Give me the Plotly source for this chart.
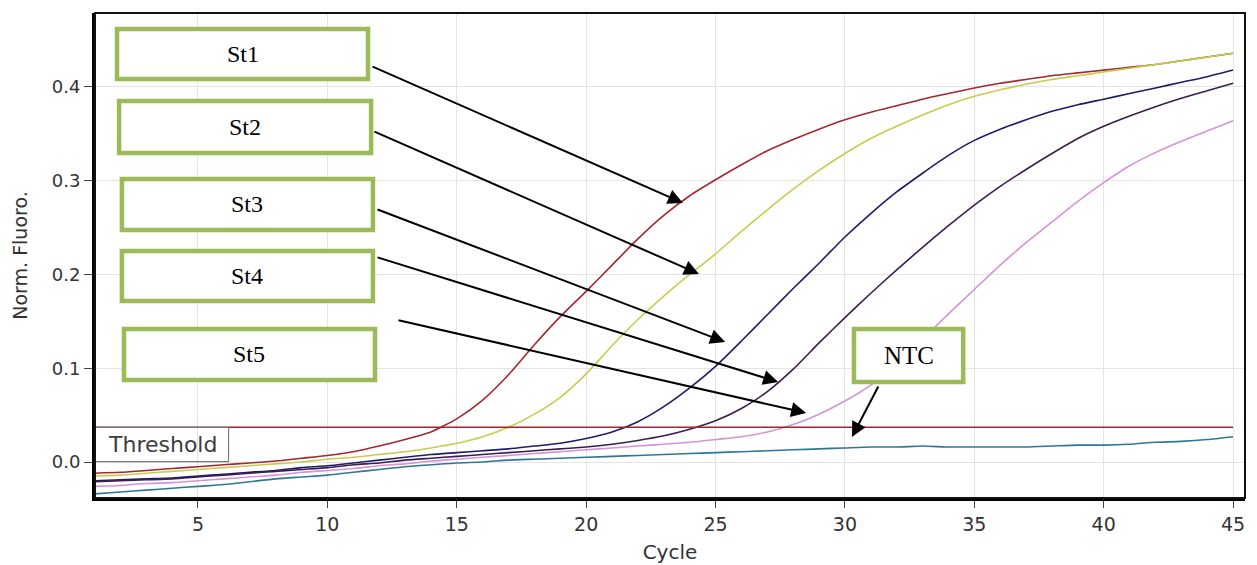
import plotly.graph_objects as go

# ---------------- data ----------------
cycles = list(range(1, 46))

st1 = [-0.012, -0.011, -0.009, -0.007, -0.005, -0.003, -0.001, 0.001, 0.004, 0.007,
       0.011, 0.017, 0.024, 0.032, 0.046, 0.066, 0.093, 0.125, 0.155, 0.182,
       0.210, 0.238, 0.263, 0.284, 0.301, 0.317, 0.332, 0.344, 0.355, 0.365,
       0.373, 0.380, 0.387, 0.393, 0.399, 0.404, 0.408, 0.412, 0.415, 0.418,
       0.421, 0.424, 0.428, 0.432, 0.436]

st2 = [-0.015, -0.014, -0.012, -0.010, -0.008, -0.006, -0.004, -0.002, 0.000, 0.003,
       0.005, 0.008, 0.011, 0.015, 0.020, 0.027, 0.037, 0.051, 0.069, 0.094,
       0.124, 0.152, 0.177, 0.200, 0.222, 0.246, 0.269, 0.291, 0.311, 0.329,
       0.345, 0.358, 0.370, 0.381, 0.390, 0.397, 0.403, 0.408, 0.412, 0.416,
       0.420, 0.424, 0.428, 0.432, 0.436]

st3 = [-0.020, -0.019, -0.018, -0.017, -0.015, -0.013, -0.011, -0.009, -0.006, -0.004,
       -0.001, 0.002, 0.005, 0.008, 0.010, 0.012, 0.014, 0.017, 0.020, 0.025,
       0.032, 0.043, 0.059, 0.079, 0.102, 0.129, 0.157, 0.185, 0.212, 0.240,
       0.265, 0.288, 0.308, 0.327, 0.343, 0.355, 0.365, 0.374, 0.381, 0.387,
       0.393, 0.399, 0.405, 0.411, 0.418]

st4 = [-0.021, -0.020, -0.019, -0.018, -0.016, -0.014, -0.012, -0.010, -0.008, -0.006,
       -0.003, -0.001, 0.002, 0.004, 0.006, 0.008, 0.010, 0.012, 0.014, 0.016,
       0.019, 0.023, 0.028, 0.035, 0.044, 0.057, 0.075, 0.099, 0.127, 0.154,
       0.180, 0.205, 0.229, 0.252, 0.274, 0.294, 0.312, 0.329, 0.345, 0.358,
       0.369, 0.379, 0.388, 0.396, 0.404]

st5 = [-0.026, -0.025, -0.023, -0.022, -0.020, -0.018, -0.016, -0.014, -0.011, -0.009,
       -0.007, -0.004, -0.002, 0.001, 0.003, 0.005, 0.007, 0.009, 0.011, 0.013,
       0.015, 0.017, 0.019, 0.021, 0.024, 0.027, 0.032, 0.040, 0.051, 0.065,
       0.082, 0.104, 0.131, 0.158, 0.184, 0.210, 0.234, 0.256, 0.278, 0.298,
       0.316, 0.330, 0.342, 0.353, 0.364]

ntc = [-0.034, -0.032, -0.030, -0.028, -0.026, -0.024, -0.021, -0.018, -0.016, -0.014,
       -0.011, -0.008, -0.005, -0.003, -0.001, 0.000, 0.002, 0.003, 0.004, 0.005,
       0.006, 0.007, 0.008, 0.009, 0.010, 0.011, 0.012, 0.013, 0.014, 0.015,
       0.016, 0.016, 0.017, 0.016, 0.016, 0.016, 0.016, 0.017, 0.018, 0.018,
       0.019, 0.021, 0.022, 0.024, 0.027]

threshold = 0.037

series_names = ["St1", "St2", "St3", "St4", "St5", "NTC"]
series_values = [st1, st2, st3, st4, st5, ntc]
series_colors = ["#A3282F", "#C9CB4E", "#1E1D6B", "#3B1E4F", "#D493D6", "#2E7896"]

x_ticks = [5, 10, 15, 20, 25, 30, 35, 40, 45]
y_ticks = [0.0, 0.1, 0.2, 0.3, 0.4]
y_tick_labels = ["0.0", "0.1", "0.2", "0.3", "0.4"]

# label boxes (data coords: x0, x1, y0, y1) and arrows (tail -> tip)
boxes = {
    "St1": (1.87, 11.57, 0.4085, 0.4619),
    "St2": (1.95, 11.69, 0.3296, 0.3851),
    "St3": (2.06, 11.76, 0.2475, 0.3019),
    "St4": (2.06, 11.76, 0.1717, 0.2251),
    "St5": (2.14, 11.84, 0.0875, 0.1419),
    "NTC": (30.35, 34.57, 0.0853, 0.1419),
}
arrows = {
    "St1": ((11.69, 0.4224), (23.74, 0.2763)),
    "St2": ((11.76, 0.3531), (24.36, 0.2005)),
    "St3": ((11.88, 0.2699), (25.37, 0.1280)),
    "St4": ((11.88, 0.2187), (27.42, 0.0853)),
    "St5": ((12.69, 0.1515), (28.50, 0.0523)),
    "NTC": ((31.32, 0.0821), (30.27, 0.0267)),
}

X_RANGE = [1.02, 45.46]
Y_RANGE = [-0.0384, 0.4789]

fig = go.Figure()

for name, vals, col in zip(series_names, series_values, series_colors):
    fig.add_trace(go.Scatter(x=cycles, y=vals, mode="lines", name=name,
                             line=dict(color=col, width=1.6, shape="spline", smoothing=0.6),
                             showlegend=False))

# threshold line
fig.add_trace(go.Scatter(x=[X_RANGE[0], cycles[-1]], y=[threshold, threshold], mode="lines",
                         line=dict(color="#A8232B", width=1.6), showlegend=False,
                         name="Threshold"))

shapes = []
annotations = []

# threshold label box
shapes.append(dict(type="rect", xref="x", yref="y", x0=X_RANGE[0], x1=6.18,
                   y0=0.0005, y1=threshold, line=dict(color="#7a7a7a", width=1.2),
                   fillcolor="rgba(255,255,255,0)"))
annotations.append(dict(x=1.45, y=(threshold + 0.0005) / 2, xref="x", yref="y",
                        text="Threshold", showarrow=False, xanchor="left", yanchor="middle",
                        font=dict(family="DejaVu Sans", size=22, color="#3c3c3c")))

for name in series_names:
    x0, x1, y0, y1 = boxes[name]
    shapes.append(dict(type="rect", xref="x", yref="y", x0=x0, x1=x1, y0=y0, y1=y1,
                       line=dict(color="#9BBB59", width=4.5), fillcolor="white", layer="above"))
    annotations.append(dict(x=(x0 + x1) / 2, y=(y0 + y1) / 2, xref="x", yref="y",
                            text=name, showarrow=False, xanchor="center", yanchor="middle",
                            font=dict(family="Liberation Serif", size=25 if name == "NTC" else 24,
                                      color="black")))
    (tx, ty), (hx, hy) = arrows[name]
    annotations.append(dict(x=hx, y=hy, ax=tx, ay=ty, xref="x", yref="y", axref="x", ayref="y",
                            text="", showarrow=True, arrowhead=2, arrowsize=1.5,
                            arrowwidth=2, arrowcolor="black", standoff=0, startstandoff=0))

# outer frame (top/right thinner)
shapes.append(dict(type="rect", xref="paper", yref="paper", x0=0, x1=1, y0=0, y1=1,
                   line=dict(color="#111111", width=2), layer="above"))

fig.update_layout(
    width=1257, height=565,
    margin=dict(l=95, r=12, t=13, b=67, autoexpand=False),
    paper_bgcolor="white", plot_bgcolor="white",
    shapes=shapes,
    annotations=annotations,
    xaxis=dict(range=X_RANGE, tickvals=x_ticks, ticks="outside", ticklen=7, tickwidth=1.2,
               tickcolor="#444", showgrid=True, gridcolor="#e4e4e4", gridwidth=1,
               showline=True, linecolor="black", linewidth=3, zeroline=False,
               automargin=False,
               tickfont=dict(family="DejaVu Sans", size=19, color="#333"),
               title=dict(text="Cycle", font=dict(family="DejaVu Sans", size=20, color="#333"),
                          standoff=12)),
    yaxis=dict(range=Y_RANGE, tickvals=y_ticks, ticktext=y_tick_labels, ticks="outside",
               ticklen=8, tickwidth=1.2, tickcolor="#444", showgrid=True, gridcolor="#e4e4e4",
               gridwidth=1, showline=True, linecolor="black", linewidth=3, zeroline=False,
               automargin=False,
               tickfont=dict(family="DejaVu Sans", size=18, color="#333"),
               title=dict(text="Norm. Fluoro.", font=dict(family="DejaVu Sans", size=19, color="#333"),
                          standoff=20)),
)

fig.write_html("out.html", config={"displayModeBar": False},
               post_script="document.body.style.margin='0px';")
